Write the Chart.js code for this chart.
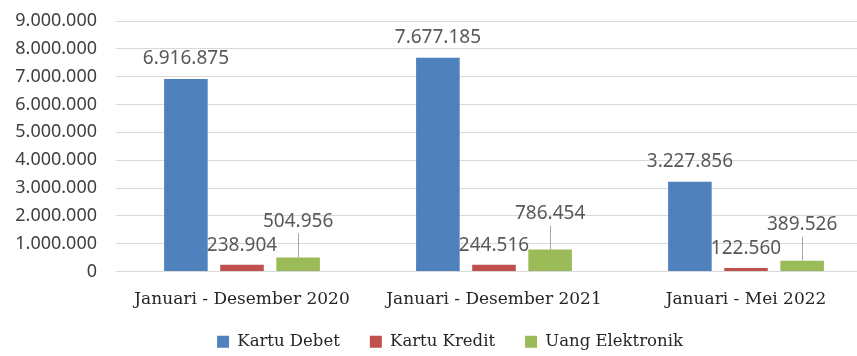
<!DOCTYPE html>
<html>
<head>
<meta charset="utf-8">
<script src="https://cdn.jsdelivr.net/npm/chart.js@4"></script>
<style>
  html, body { margin: 0; padding: 0; background: #fff; overflow: hidden; }
  #wrap { width: 900px; height: 356px; }
</style>
</head>
<body>
<div id="wrap"><canvas id="transaksi-chart" width="900" height="356"></canvas></div>
<script>
const periods = ['Januari - Desember 2020', 'Januari - Desember 2021', 'Januari - Mei 2022'];
const debitData = [6916875, 7677185, 3227856];
const creditData = [238904, 244516, 122560];
const emoneyData = [504956, 786454, 389526];
const yTicks = [0, 1000000, 2000000, 3000000, 4000000, 5000000, 6000000, 7000000, 8000000, 9000000];

const formatDot = (v) => String(v).replace(/\B(?=(\d{3})+(?!\d))/g, '.');

// label offset above bar top, per dataset (green one gets a leader line)
const labelOffsets = [20, 19, 36];

const valueLabels = {
  id: 'valueLabels',
  afterLayout(chart) {
    // x axis was squeezed so the legend sits closer; don't clip its labels
    chart.scales.x.bottom = chart.height;
    // legend sits a bit right of centre in the original
    chart.legend.left += 14;
    chart.legend.right += 14;
  },
  afterDatasetsDraw(chart) {
    const ctx = chart.ctx;
    ctx.save();
    ctx.font = '19px "Noto Sans"';
    ctx.fillStyle = '#595959';
    ctx.textAlign = 'center';
    ctx.textBaseline = 'middle';
    chart.data.datasets.forEach((ds, i) => {
      const meta = chart.getDatasetMeta(i);
      meta.data.forEach((bar, j) => {
        const y = bar.y - labelOffsets[i];
        if (i === 2) {
          ctx.strokeStyle = '#a6a6a6';
          ctx.lineWidth = 1;
          ctx.beginPath();
          ctx.moveTo(Math.round(bar.x) + 0.5, y + 12);
          ctx.lineTo(Math.round(bar.x) + 0.5, bar.y);
          ctx.stroke();
        }
        ctx.fillText(formatDot(ds.data[j]), bar.x, y);
      });
    });
    ctx.restore();
  },
};

const ctx = document.getElementById('transaksi-chart').getContext('2d');

const config = {
  type: 'bar',
  data: {
    labels: periods,
    datasets: [
      {
        label: 'Kartu Debet',
        data: debitData,
        backgroundColor: '#4F81BD',
        categoryPercentage: 0.668,
        barPercentage: 0.777,
      },
      {
        label: 'Kartu Kredit',
        data: creditData,
        backgroundColor: '#C0504D',
        categoryPercentage: 0.668,
        barPercentage: 0.777,
      },
      {
        label: 'Uang Elektronik',
        data: emoneyData,
        backgroundColor: '#9BBB59',
        categoryPercentage: 0.668,
        barPercentage: 0.777,
      },
    ],
  },
  options: {
    responsive: false,
    animation: false,
    devicePixelRatio: 1,
    layout: {
      padding: { top: 21, right: 28, left: 0, bottom: -4 },
    },
    plugins: {
      legend: {
        position: 'bottom',
        labels: {
          boxWidth: 12,
          boxHeight: 12,
          padding: 30,
          font: { size: 16.5, family: 'DejaVu Serif' },
          color: '#262626',
        },
      },
      tooltip: { enabled: false },
    },
    scales: {
      x: {
        afterFit: (axis) => {
          axis.height = 32;
        },
        grid: { display: false },
        border: { display: false },
        ticks: {
          padding: 10,
          font: { size: 17, family: 'DejaVu Serif' },
          color: '#262626',
          maxRotation: 0,
        },
      },
      y: {
        min: 0,
        max: 9000000,
        afterBuildTicks: (axis) => {
          axis.ticks = yTicks.map((v) => ({ value: v }));
        },
        afterFit: (axis) => {
          axis.width = 116;
          axis.paddingTop = 0;
          axis.paddingBottom = 0;
        },
        border: { display: false },
        grid: { color: '#d9d9d9', drawTicks: false },
        ticks: {
          padding: 19,
          font: { size: 18, family: 'Noto Sans' },
          color: '#404040',
          callback: (v) => formatDot(v),
        },
      },
    },
  },
  plugins: [valueLabels],
};

new Chart(ctx, config);
</script>
</body>
</html>
